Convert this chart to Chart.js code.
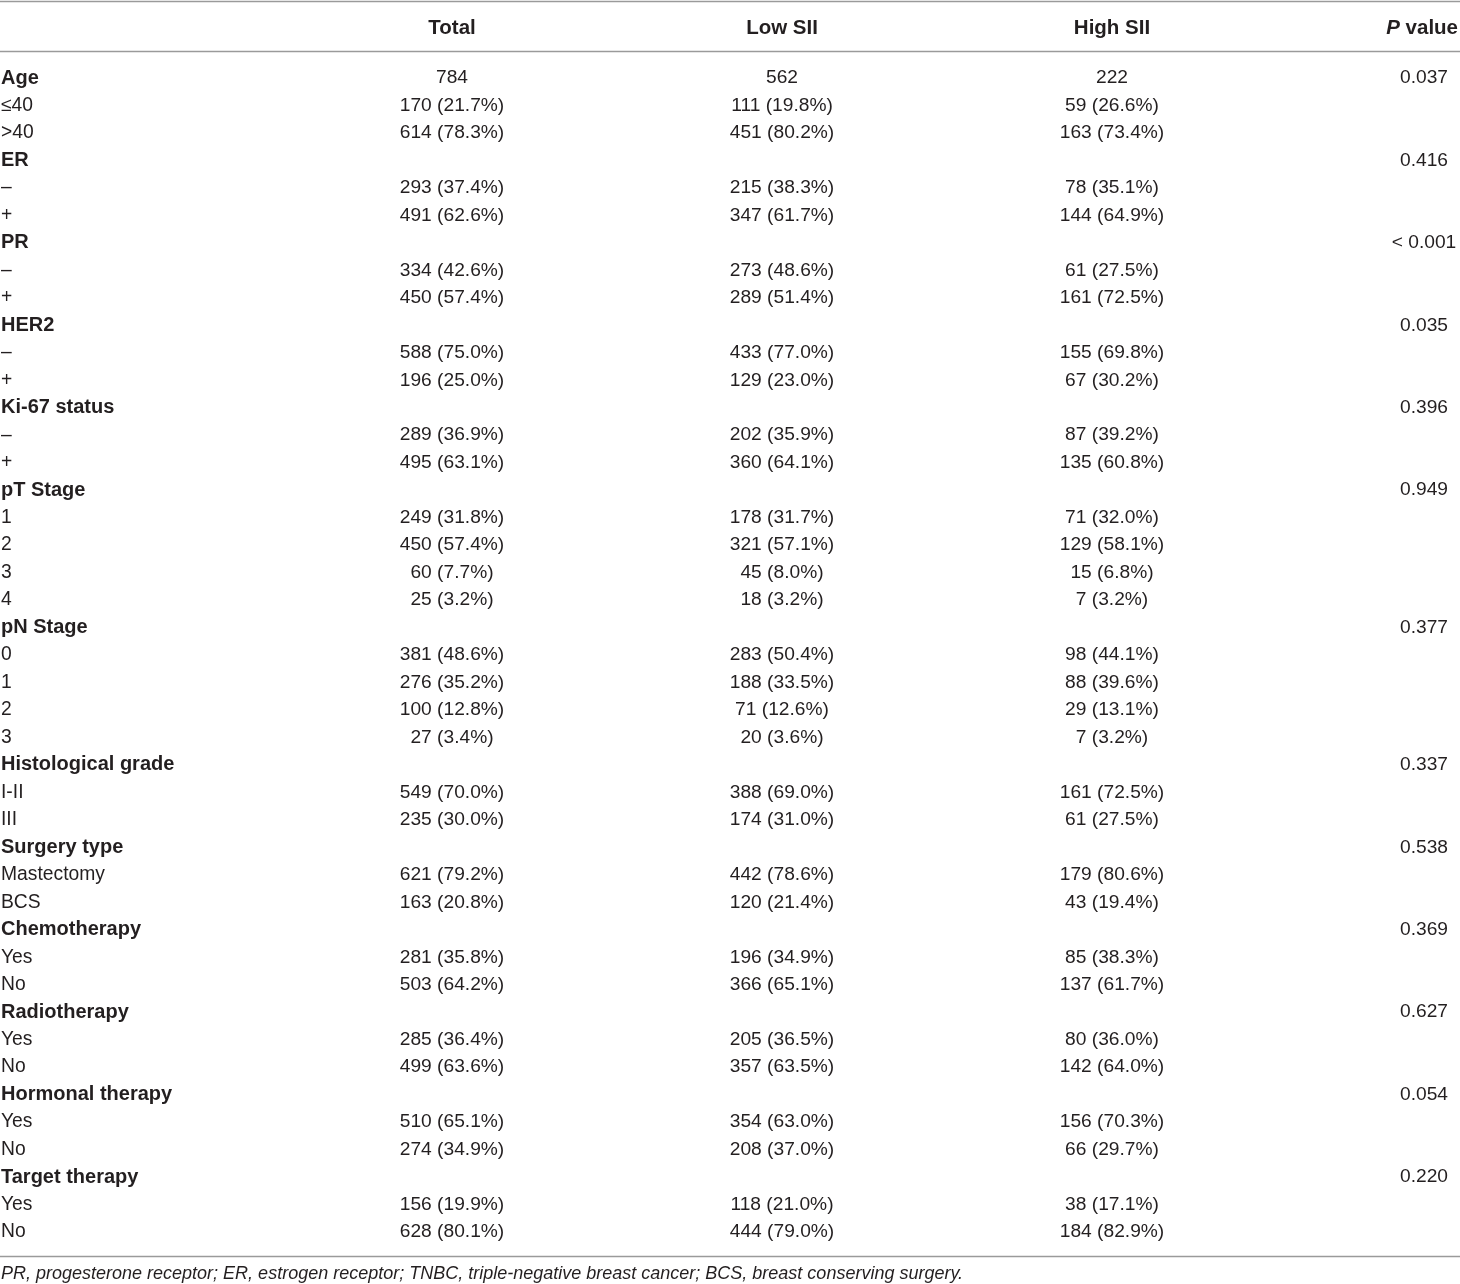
<!DOCTYPE html>
<html lang="en">
  <head>
    <meta charset="UTF-8" />
    <title>Baseline characteristics by SII</title>
    <script src="https://cdn.jsdelivr.net/npm/chart.js"></script>
    <style>
      html,
      body {
        margin: 0;
        padding: 0;
        background: #ffffff;
      }
      #table-container {
        width: 1460px;
        height: 1284px;
        position: relative;
      }
    </style>
  </head>
  <body>
    <div id="table-container">
      <canvas id="sii"></canvas>
    </div>

    <script>
      // Column headers
      const headers = ["", "Total", "Low SII", "High SII", "P value"];

      // Row labels (bold rows are the variable names)
      const rowLabels = [
        "Age", "≤40", ">40",
        "ER", "–", "+",
        "PR", "–", "+",
        "HER2", "–", "+",
        "Ki-67 status", "–", "+",
        "pT Stage", "1", "2", "3", "4",
        "pN Stage", "0", "1", "2", "3",
        "Histological grade", "I-II", "III",
        "Surgery type", "Mastectomy", "BCS",
        "Chemotherapy", "Yes", "No",
        "Radiotherapy", "Yes", "No",
        "Hormonal therapy", "Yes", "No",
        "Target therapy", "Yes", "No",
      ];
      const boldRows = [0, 3, 6, 9, 12, 15, 20, 25, 28, 31, 34, 37, 40];

      const totalCol = [
        "784", "170 (21.7%)", "614 (78.3%)",
        "", "293 (37.4%)", "491 (62.6%)",
        "", "334 (42.6%)", "450 (57.4%)",
        "", "588 (75.0%)", "196 (25.0%)",
        "", "289 (36.9%)", "495 (63.1%)",
        "", "249 (31.8%)", "450 (57.4%)", "60 (7.7%)", "25 (3.2%)",
        "", "381 (48.6%)", "276 (35.2%)", "100 (12.8%)", "27 (3.4%)",
        "", "549 (70.0%)", "235 (30.0%)",
        "", "621 (79.2%)", "163 (20.8%)",
        "", "281 (35.8%)", "503 (64.2%)",
        "", "285 (36.4%)", "499 (63.6%)",
        "", "510 (65.1%)", "274 (34.9%)",
        "", "156 (19.9%)", "628 (80.1%)",
      ];
      const lowCol = [
        "562", "111 (19.8%)", "451 (80.2%)",
        "", "215 (38.3%)", "347 (61.7%)",
        "", "273 (48.6%)", "289 (51.4%)",
        "", "433 (77.0%)", "129 (23.0%)",
        "", "202 (35.9%)", "360 (64.1%)",
        "", "178 (31.7%)", "321 (57.1%)", "45 (8.0%)", "18 (3.2%)",
        "", "283 (50.4%)", "188 (33.5%)", "71 (12.6%)", "20 (3.6%)",
        "", "388 (69.0%)", "174 (31.0%)",
        "", "442 (78.6%)", "120 (21.4%)",
        "", "196 (34.9%)", "366 (65.1%)",
        "", "205 (36.5%)", "357 (63.5%)",
        "", "354 (63.0%)", "208 (37.0%)",
        "", "118 (21.0%)", "444 (79.0%)",
      ];
      const highCol = [
        "222", "59 (26.6%)", "163 (73.4%)",
        "", "78 (35.1%)", "144 (64.9%)",
        "", "61 (27.5%)", "161 (72.5%)",
        "", "155 (69.8%)", "67 (30.2%)",
        "", "87 (39.2%)", "135 (60.8%)",
        "", "71 (32.0%)", "129 (58.1%)", "15 (6.8%)", "7 (3.2%)",
        "", "98 (44.1%)", "88 (39.6%)", "29 (13.1%)", "7 (3.2%)",
        "", "161 (72.5%)", "61 (27.5%)",
        "", "179 (80.6%)", "43 (19.4%)",
        "", "85 (38.3%)", "137 (61.7%)",
        "", "80 (36.0%)", "142 (64.0%)",
        "", "156 (70.3%)", "66 (29.7%)",
        "", "38 (17.1%)", "184 (82.9%)",
      ];
      const pValues = [
        "0.037", "", "",
        "0.416", "", "",
        "< 0.001", "", "",
        "0.035", "", "",
        "0.396", "", "",
        "0.949", "", "", "", "",
        "0.377", "", "", "", "",
        "0.337", "", "",
        "0.538", "", "",
        "0.369", "", "",
        "0.627", "", "",
        "0.054", "", "",
        "0.220", "", "",
      ];

      const footnote =
        "PR, progesterone receptor; ER, estrogen receptor; TNBC, triple-negative breast cancer; BCS, breast conserving surgery.";

      const FONT = "'Liberation Sans', Arial, Helvetica, sans-serif";
      const TEXT = "#231f20";
      const RULE = "#9a9a9a";
      const NUDGE = 2; // canvas "middle" sits a touch high vs the original

      // column anchors on the x scale (value units = px of the page)
      const colX = [1, 452, 782, 1112, 1424];

      // Plugin that lays the table out on the chart's scales
      const tablePlugin = {
        id: "tableText",
        afterDraw(chart) {
          const ctx = chart.ctx;
          const x = chart.scales.x;
          const y = chart.scales.y;
          const left = x.getPixelForValue(0);
          const right = x.getPixelForValue(1460);
          ctx.save();

          // horizontal rules
          ctx.strokeStyle = RULE;
          ctx.lineWidth = 1.5;
          [-2.74, -0.92, 42.93].forEach((v) => {
            const py = Math.round(y.getPixelForValue(v)) + 0.5;
            ctx.beginPath();
            ctx.moveTo(left, py);
            ctx.lineTo(right, py);
            ctx.stroke();
          });

          ctx.fillStyle = TEXT;
          ctx.textBaseline = "middle";

          // header row
          const hy = y.getPixelForValue(-1.82) + NUDGE;
          ctx.font = "bold 20.5px " + FONT;
          ctx.textAlign = "center";
          for (let c = 1; c <= 3; c++) {
            ctx.fillText(headers[c], x.getPixelForValue(colX[c]), hy);
          }
          // "P value" with italic P, right aligned
          ctx.textAlign = "left";
          const restW = ctx.measureText(" value").width;
          ctx.font = "italic bold 20.5px " + FONT;
          const pW = ctx.measureText("P").width;
          const px0 = x.getPixelForValue(1458) - restW - pW;
          ctx.fillText("P", px0, hy);
          ctx.font = "bold 20.5px " + FONT;
          ctx.fillText(" value", px0 + pW, hy);

          // body rows
          rowLabels.forEach((label, i) => {
            const py = y.getPixelForValue(i) + NUDGE;
            ctx.textAlign = "left";
            ctx.font = boldRows.includes(i) ? "bold 20px " + FONT : "19.3px " + FONT;
            ctx.fillText(label, x.getPixelForValue(colX[0]), py);

            ctx.font = "19.2px " + FONT;
            ctx.textAlign = "center";
            [totalCol, lowCol, highCol, pValues].forEach((col, c) => {
              if (col[i]) ctx.fillText(col[i], x.getPixelForValue(colX[c + 1]), py);
            });
          });

          // footnote
          ctx.textAlign = "left";
          ctx.font = "italic 18px " + FONT;
          ctx.fillText(footnote, x.getPixelForValue(1), y.getPixelForValue(43.6));

          ctx.restore();
        },
      };

      const ctx = document.getElementById("sii").getContext("2d");
      new Chart(ctx, {
        type: "scatter",
        data: {
          datasets: [
            {
              data: rowLabels.map((_, i) => ({ x: 0, y: i })),
              pointRadius: 0,
              showLine: false,
            },
          ],
        },
        options: {
          responsive: true,
          maintainAspectRatio: false,
          animation: false,
          devicePixelRatio: 1,
          layout: { padding: 0 },
          plugins: {
            legend: { display: false },
            tooltip: { enabled: false },
          },
          scales: {
            x: { type: "linear", min: 0, max: 1460, display: false },
            y: {
              type: "linear",
              reverse: true,
              min: -2.766,
              max: 43.965,
              display: false,
            },
          },
        },
        plugins: [tablePlugin],
      });
    </script>
  </body>
</html>
